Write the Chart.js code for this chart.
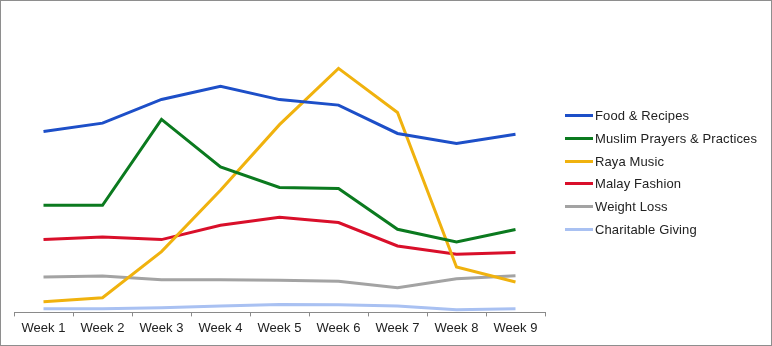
<!DOCTYPE html>
<html>
<head>
<meta charset="utf-8">
<script src="https://cdn.jsdelivr.net/npm/chart.js@4/dist/chart.umd.min.js"></script>
<style>
  html, body { margin: 0; padding: 0; background: #fff; }
  #wrap { position: relative; width: 772px; height: 346px; box-sizing: border-box; border: 1px solid #8e8e8e; }
  #wrap canvas { position: absolute; left: 0; top: 0; }
  #legend { position: absolute; left: 564px; top: 104px; font: 13px "Liberation Sans", Arial, sans-serif; color: #222; letter-spacing: 0.12px; }
  #legend .row { height: 22.8px; line-height: 22.8px; white-space: nowrap; }
  #legend .swatch { display: inline-block; width: 28px; height: 3px; vertical-align: middle; margin-right: 2px; position: relative; top: -1px; }
</style>
</head>
<body>
<div id="wrap">
  <canvas id="myChart" width="770" height="344"></canvas>
  <div id="legend"></div>
</div>
<script>
const weeks = ['Week 1','Week 2','Week 3','Week 4','Week 5','Week 6','Week 7','Week 8','Week 9'];

const foodRecipes    = [180.7, 189, 212.7, 225.7, 212.5, 207, 178.7, 168.7, 178];
const muslimPrayers  = [107, 107, 192.7, 145.3, 124.7, 123.7, 83, 70.3, 82.7];
const rayaMusic      = [10.7, 14.7, 60.7, 122, 187.5, 243.7, 199.7, 45.3, 30.3];
const malayFashion   = [72.7, 75.3, 72.7, 87, 95, 89.7, 66.3, 58, 59.7];
const weightLoss     = [35.3, 36.3, 32.7, 32.7, 32, 31, 24.7, 33.7, 36.7];
const charitable     = [3.7, 3.7, 4.7, 6.3, 8, 7.7, 6.3, 2.7, 3.7];

const seriesNames  = ['Food & Recipes','Muslim Prayers & Practices','Raya Music','Malay Fashion','Weight Loss','Charitable Giving'];
const seriesData   = [foodRecipes, muslimPrayers, rayaMusic, malayFashion, weightLoss, charitable];
const seriesColors = ['#1d4fc8','#0b7a1f','#f0b20e','#d90f2a','#a3a3a3','#a9c1f2'];

// first series drawn on top, like the original
const datasets = seriesNames.map((name, i) => ({
  label: name,
  data: seriesData[i],
  borderColor: seriesColors[i],
  backgroundColor: seriesColors[i],
  borderWidth: 3,
  pointRadius: 0,
  tension: 0,
  fill: false,
  order: i
}));

const ctx = document.getElementById('myChart').getContext('2d');
const myChart = new Chart(ctx, {
  type: 'line',
  data: { labels: weeks, datasets: datasets },
  options: {
    responsive: false,
    animation: false,
    layout: { padding: { left: 13, right: 226, top: 11, bottom: 5 } },
    plugins: { legend: { display: false }, tooltip: { enabled: false } },
    scales: {
      x: {
        type: 'category',
        offset: true,
        border: { display: true, color: '#8a8a8a', width: 1 },
        grid: { display: true, offset: true, drawOnChartArea: false, drawTicks: true, tickLength: 4, color: '#8a8a8a' },
        ticks: { color: '#222', padding: 4, maxRotation: 0, autoSkip: false, font: { family: '"Liberation Sans", Arial, sans-serif', size: 13 } }
      },
      y: { display: false, min: 0, max: 300 }
    }
  }
});

const legend = document.getElementById('legend');
seriesNames.forEach((name, i) => {
  const row = document.createElement('div');
  row.className = 'row';
  const sw = document.createElement('span');
  sw.className = 'swatch';
  sw.style.background = seriesColors[i];
  row.appendChild(sw);
  row.appendChild(document.createTextNode(name));
  legend.appendChild(row);
});
</script>
</body>
</html>
